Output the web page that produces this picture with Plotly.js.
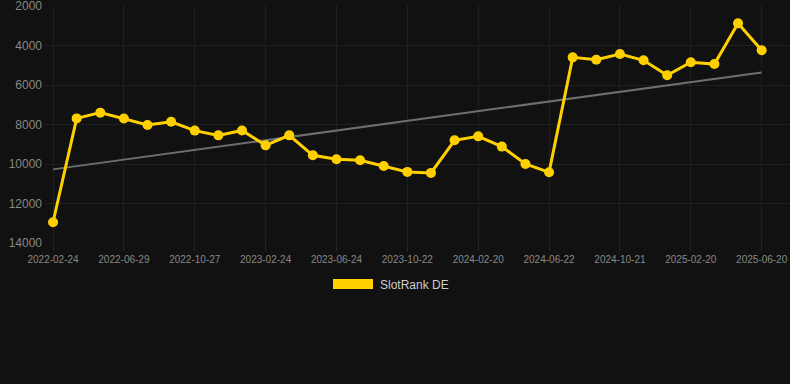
<!DOCTYPE html>
<html>
<head>
<meta charset="utf-8">
<script src="https://cdn.plot.ly/plotly-3.0.1.min.js"></script>
<style>
html,body{margin:0;padding:0;background:#111111;}
#chart{width:790px;height:384px;}
</style>
</head>
<body>
<div id="chart"></div>
<script>
const dates = [
  "2022-02-24","2022-04-06","2022-05-18","2022-06-29","2022-08-08","2022-09-17",
  "2022-10-27","2022-12-06","2023-01-15","2023-02-24","2023-04-05","2023-05-15",
  "2023-06-24","2023-08-03","2023-09-12","2023-10-22","2023-12-01","2024-01-10",
  "2024-02-20","2024-04-01","2024-05-12","2024-06-22","2024-08-01","2024-09-10",
  "2024-10-21","2024-11-30","2025-01-10","2025-02-20","2025-04-01","2025-05-11",
  "2025-06-20"
];
const rankDE = [
  12950, 7690, 7400, 7700, 8025, 7860,
  8310, 8550, 8300, 9055, 8550, 9560,
  9760, 9810, 10100, 10400, 10450, 8800,
  8600, 9120, 10000, 10420, 4600, 4720,
  4430, 4750, 5510, 4850, 4940, 2880,
  4245
];
const tickLabels = [
  "2022-02-24","2022-06-29","2022-10-27","2023-02-24","2023-06-24","2023-10-22",
  "2024-02-20","2024-06-22","2024-10-21","2025-02-20","2025-06-20"
];
const yTicks = [2000, 4000, 6000, 8000, 10000, 12000, 14000];
const seriesName = "SlotRank DE";

// linear trend (least squares over point index)
const n = rankDE.length;
let sx = 0, sy = 0, sxy = 0, sxx = 0;
rankDE.forEach((v, i) => { sx += i; sy += v; sxy += i * v; sxx += i * i; });
const slope = (n * sxy - sx * sy) / (n * sxx - sx * sx);
const intercept = (sy - slope * sx) / n;
const trend = rankDE.map((_, i) => intercept + slope * i);

const yellow = "#FFD000";
const font = "Liberation Sans, Arial, sans-serif";

const traces = [
  {
    x: dates, y: trend, type: "scatter", mode: "lines",
    line: {color: "#6e6e6e", width: 2}, hoverinfo: "skip", showlegend: false
  },
  {
    x: dates, y: rankDE, type: "scatter", mode: "lines+markers", name: seriesName,
    line: {color: yellow, width: 3},
    marker: {color: yellow, size: 10},
    showlegend: false
  }
];

const layout = {
  width: 790, height: 384,
  paper_bgcolor: "#111111", plot_bgcolor: "#111111",
  margin: {l: 45, r: 0, t: 5, b: 140},
  font: {family: font, color: "#888888"},
  xaxis: {
    type: "category",
    range: [-0.34, 31.2],
    tickmode: "array", tickvals: tickLabels, ticktext: tickLabels,
    tickangle: 0,
    showgrid: true, gridcolor: "#1f1f1f", gridwidth: 1,
    zeroline: false, showline: false,
    ticks: "outside", ticklen: 6, tickcolor: "#2a2a2a",
    tickfont: {size: 10, color: "#888888", family: font}
  },
  yaxis: {
    range: [14050, 1950],
    tickmode: "array", tickvals: yTicks, ticktext: yTicks.map(String),
    ticklabeloverflow: "allow",
    showgrid: true, gridcolor: "#1f1f1f", gridwidth: 1,
    zeroline: false, showline: false,
    ticks: "", ticklabelstandoff: 2,
    tickfont: {size: 12, color: "#888888", family: font}
  },
  shapes: [
    {type: "rect", xref: "paper", yref: "paper",
     x0: (333 - 45) / 745, x1: (373 - 45) / 745,
     y0: (244 - 289) / 239, y1: (244 - 279) / 239,
     fillcolor: yellow, line: {width: 0}}
  ],
  annotations: [
    {xref: "paper", yref: "paper", x: (378 - 45) / 745, y: (244 - 285) / 239,
     xanchor: "left", yanchor: "middle", showarrow: false,
     text: seriesName, font: {size: 12, color: "#cccccc", family: font}}
  ],
  showlegend: false
};

Plotly.newPlot("chart", traces, layout, {displayModeBar: false, staticPlot: true});
</script>
</body>
</html>
